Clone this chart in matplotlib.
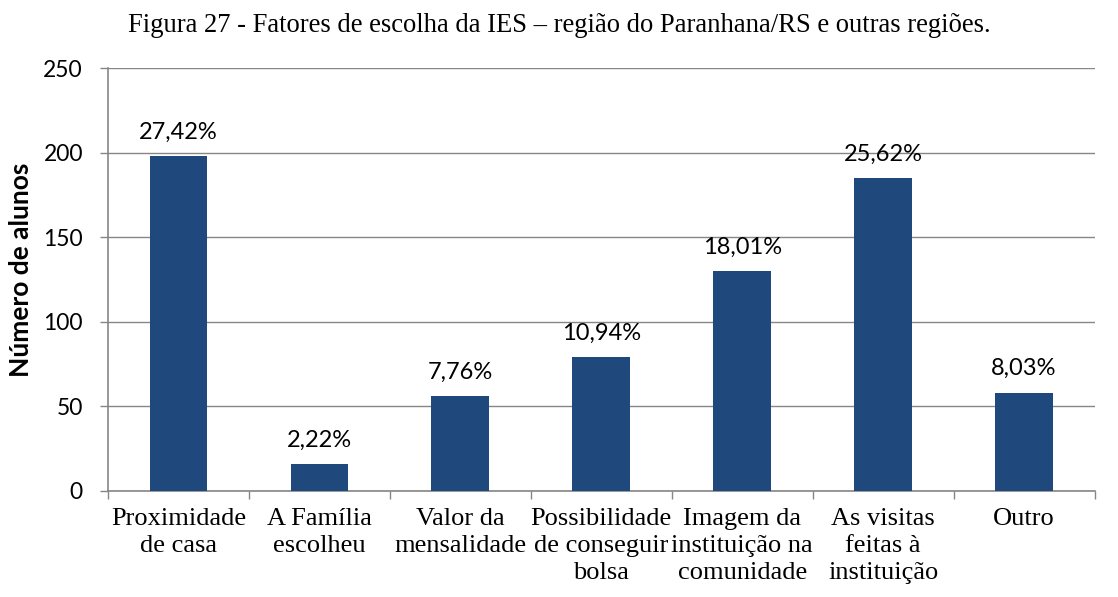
import numpy as np
import matplotlib.pyplot as plt

# Data
categorias = ['Proximidade\nde casa', 'A Família\nescolheu', 'Valor da\nmensalidade',
              'Possibilidade\nde conseguir\nbolsa', 'Imagem da\ninstituição na\ncomunidade',
              'As visitas\nfeitas à\ninstituição', 'Outro']
alunos = [198, 16, 56, 79, 130, 185, 58]
percentuais = ['27,42%', '2,22%', '7,76%', '10,94%', '18,01%', '25,62%', '8,03%']

cor_barra = '#1f497d'
cinza = '#868686'

fig = plt.figure(figsize=(11.18, 5.97), dpi=100)
ax = fig.add_axes([0.0966, 0.1776, 0.8824, 0.7084])

x = np.arange(len(categorias))
ax.bar(x, alunos, width=0.41, color=cor_barra, zorder=3)

for xi, v, p in zip(x, alunos, percentuais):
    ax.text(xi, v + 8, p, ha='center', va='bottom', fontsize=17,
            family='Lato', zorder=4)

ax.set_xlim(-0.5, len(categorias) - 0.5)
ax.set_ylim(0, 250)
ax.set_yticks(np.arange(0, 251, 50))
ax.yaxis.grid(True, color=cinza, linewidth=1, zorder=0)

ax.set_xticks(x)
ax.set_xticklabels(categorias, family='Liberation Serif', fontsize=19,
                   linespacing=1.3, va='top')
ax.set_xticks(np.arange(-0.5, len(categorias)), minor=True)
ax.tick_params(axis='x', which='major', length=0, pad=12)
ax.tick_params(axis='x', which='minor', length=6, color=cinza, width=1)
ax.tick_params(axis='y', length=6, color=cinza, width=1, pad=12)
for lbl in ax.get_yticklabels():
    lbl.set_family('Lato')
    lbl.set_fontsize(16.5)

for s in ['top', 'right']:
    ax.spines[s].set_visible(False)
for s in ['left', 'bottom']:
    ax.spines[s].set_color(cinza)
    ax.spines[s].set_linewidth(1.2)

ax.set_ylabel('Número de alunos', family='Lato', fontsize=19,
              fontweight='bold')
ax.yaxis.set_label_coords(-0.076, 0.522)

fig.text(0.5005, 0.958, 'Figura 27 - Fatores de escolha da IES – região do Paranhana/RS e outras regiões.',
         ha='center', va='center', family='Liberation Serif', fontsize=19.2)

fig.savefig('out.png', dpi=100)
